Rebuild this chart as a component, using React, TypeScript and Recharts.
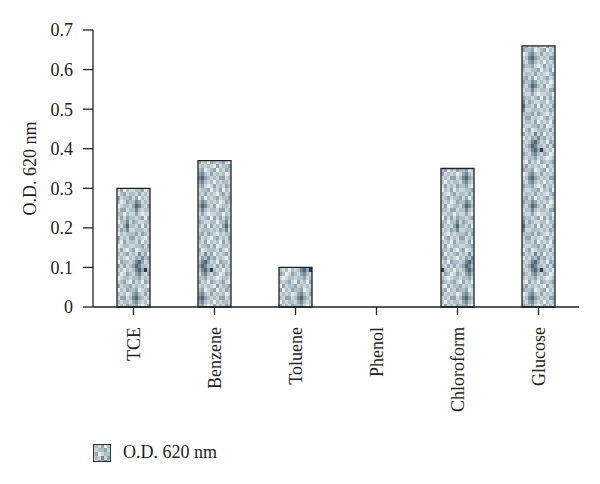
import React from "react";
import { BarChart, Bar, XAxis, YAxis } from "recharts";

const categories = ["TCE", "Benzene", "Toluene", "Phenol", "Chloroform", "Glucose"];
const odValues = [0.3, 0.37, 0.1, 0, 0.35, 0.66];
const yTicks = [0, 0.1, 0.2, 0.3, 0.4, 0.5, 0.6, 0.7];

const data = categories.map((name, i) => ({ name, od: odValues[i] }));

// speckled grey-blue texture used in the bars
const shades = ["#e6ecee", "#cbd6da", "#afbfc6", "#92a5ae", "#728893", "#536874", "#2c3c45"];
const tile = [
  "21302120312",
  "12231301221",
  "30122213102",
  "21413021231",
  "13242312102",
  "24531203221",
  "35422131312",
  "24536212021",
  "13421320132",
  "22312101221",
  "31203212310",
  "12121031223",
  "23012302132",
  "34213121201",
  "45321213312",
  "34212021221",
  "23101312132",
  "12230213021",
  "21312102312",
  "13021231223",
  "24312120132",
  "35421301221",
  "24212213312",
  "13101122021",
  "21230313132",
  "32112202241",
  "21303121352",
  "12221213241",
  "23132102122",
  "31210231213",
];
const CW = 3;
const CH = 4;

function Speckle({ id, x = 0 }: { id: string; x?: number }) {
  return (
    <pattern id={id} patternUnits="userSpaceOnUse" width={CW * 11} height={CH * tile.length} x={x}>
      {tile.map((row, r) =>
        row.split("").map((c, k) => (
          <rect key={`${r}-${k}`} x={k * CW} y={r * CH} width={CW} height={CH} fill={shades[Number(c)]} />
        ))
      )}
    </pattern>
  );
}

const font = "'Liberation Serif', 'Times New Roman', serif";

function CategoryTick(props: any) {
  const { x, y, payload } = props;
  return (
    <text
      x={0}
      y={0}
      transform={`translate(${x},${y + 10}) rotate(-90)`}
      textAnchor="end"
      dy="0.35em"
      fontSize={18}
      fill="#222"
      fontFamily={font}
    >
      {payload.value}
    </text>
  );
}

function LegendBox() {
  return (
    <div
      style={{
        position: "absolute",
        left: 93,
        top: 442,
        display: "flex",
        alignItems: "center",
        fontFamily: font,
        fontSize: 18,
        color: "#222",
      }}
    >
      <svg width={18} height={18} style={{ marginRight: 12 }}>
        <defs>
          <Speckle id="odSpeckleLegend" x={2} />
        </defs>
        <rect x={0.5} y={0.5} width={17} height={17} fill="url(#odSpeckleLegend)" stroke="#333" />
      </svg>
      <span>O.D. 620 nm</span>
    </div>
  );
}

export default function App() {
  return (
    <div style={{ position: "absolute", left: 0, top: 0, width: 600, height: 484, background: "#fff", fontFamily: font }}>
      <BarChart width={600} height={484} data={data} margin={{ top: 30, right: 21, left: 0, bottom: 77 }}>
        <defs>
          <Speckle id="odSpeckle" />
        </defs>
        <XAxis
          dataKey="name"
          height={100}
          tick={<CategoryTick />}
          tickLine={{ stroke: "#222", strokeWidth: 1.3 }}
          axisLine={{ stroke: "#222", strokeWidth: 1.3 }}
          tickSize={8}
          interval={0}
        />
        <YAxis
          width={93}
          domain={[0, 0.7]}
          ticks={yTicks}
          tickSize={10}
          tickMargin={10}
          tick={{ fontSize: 18, fill: "#222", fontFamily: font }}
          tickLine={{ stroke: "#222", strokeWidth: 1.3 }}
          axisLine={{ stroke: "#222", strokeWidth: 1.3 }}
          label={{
            value: "O.D. 620 nm",
            angle: -90,
            position: "insideLeft",
            offset: 30,
            style: { fontSize: 18, fill: "#222", fontFamily: font, textAnchor: "middle" },
          }}
        />
        <Bar
          dataKey="od"
          name="O.D. 620 nm"
          barSize={33}
          fill="url(#odSpeckle)"
          stroke="#222"
          strokeWidth={1.3}
          isAnimationActive={false}
        />
      </BarChart>
      <LegendBox />
    </div>
  );
}
